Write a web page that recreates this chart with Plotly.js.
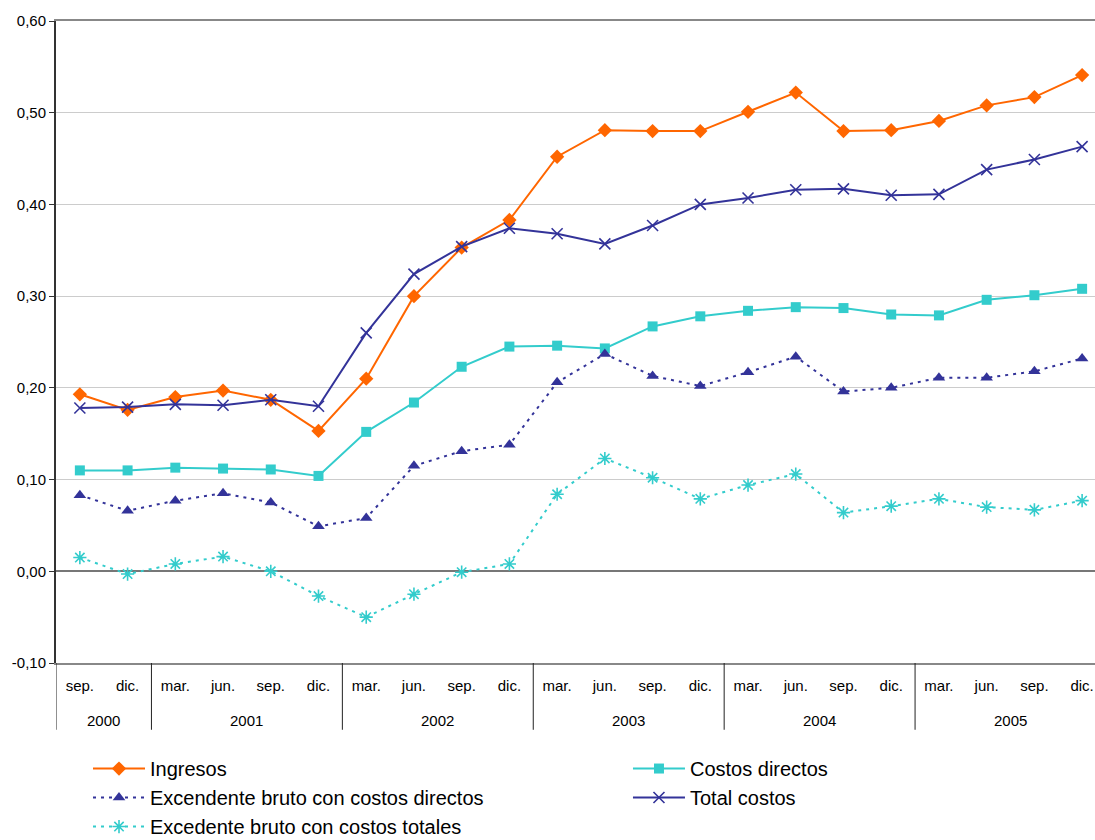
<!DOCTYPE html>
<html>
<head>
<meta charset="utf-8">
<script src="https://cdn.plot.ly/plotly-3.0.1.min.js"></script>
<style>
html,body{margin:0;padding:0;background:#fff;overflow:hidden;}
#chart{width:1095px;height:840px;}
</style>
</head>
<body>
<div id="chart"></div>
<script>
var years = ['2000','2000','2001','2001','2001','2001','2002','2002','2002','2002','2003','2003','2003','2003','2004','2004','2004','2004','2005','2005','2005','2005'];
var months = ['sep.','dic.','mar.','jun.','sep.','dic.','mar.','jun.','sep.','dic.','mar.','jun.','sep.','dic.','mar.','jun.','sep.','dic.','mar.','jun.','sep.','dic.'];

var ingresos = [0.193,0.176,0.190,0.197,0.187,0.153,0.210,0.300,0.353,0.383,0.452,0.481,0.480,0.480,0.501,0.522,0.480,0.481,0.491,0.508,0.517,0.541];
var costosDirectos = [0.110,0.110,0.113,0.112,0.111,0.104,0.152,0.184,0.223,0.245,0.246,0.243,0.267,0.278,0.284,0.288,0.287,0.280,0.279,0.296,0.301,0.308];
var excDirectos = [0.083,0.066,0.077,0.085,0.075,0.049,0.058,0.115,0.131,0.138,0.206,0.237,0.213,0.202,0.217,0.234,0.196,0.200,0.211,0.211,0.218,0.232];
var totalCostos = [0.178,0.179,0.182,0.181,0.187,0.180,0.260,0.324,0.354,0.374,0.368,0.357,0.377,0.400,0.407,0.416,0.417,0.410,0.411,0.438,0.449,0.463];
var excTotales = [0.015,-0.003,0.008,0.016,0.000,-0.027,-0.050,-0.025,-0.001,0.008,0.084,0.123,0.102,0.079,0.094,0.106,0.064,0.071,0.079,0.070,0.067,0.077];

var yTicks = [-0.1,0,0.1,0.2,0.3,0.4,0.5,0.6];

var seriesNames = ['Ingresos','Costos directos','Excendente bruto con costos directos','Total costos','Excedente bruto con costos totales'];

// unique category keys; month shown as tick text
var cats = years.map(function(y, i){ return y + ' ' + months[i]; });
var yTickText = yTicks.map(function(v){ return v.toFixed(2).replace('.', ','); });

var navy = '#333399', teal = '#33CCCC', orange = '#FF6600';

var traces = [
  {x:cats, y:ingresos, name:seriesNames[0], legend:'legend', type:'scatter', mode:'lines+markers',
   line:{color:orange, width:2}, marker:{symbol:'diamond', size:11, color:orange}},
  {x:cats, y:costosDirectos, name:seriesNames[1], legend:'legend2', type:'scatter', mode:'lines+markers',
   line:{color:teal, width:2}, marker:{symbol:'square', size:10, color:teal}},
  {x:cats, y:excDirectos, name:seriesNames[2], legend:'legend', type:'scatter', mode:'lines+markers',
   line:{color:navy, width:2, dash:'3px,5px'}, marker:{symbol:'triangle-up', size:11, color:navy}},
  {x:cats, y:totalCostos, name:seriesNames[3], legend:'legend2', type:'scatter', mode:'lines+markers',
   line:{color:navy, width:2}, marker:{symbol:'x-thin-open', size:11, color:navy, line:{color:navy, width:1.6}}},
  {x:cats, y:excTotales, name:seriesNames[4], legend:'legend', type:'scatter', mode:'lines+markers',
   line:{color:teal, width:2, dash:'3px,5px'}, marker:{symbol:'asterisk-open', size:11, color:teal, line:{color:teal, width:1.6}}}
];

// year groups -> labels and dividers
var groups = [];
years.forEach(function(y, i){
  if (!groups.length || groups[groups.length-1].year !== y) groups.push({year:y, first:i, last:i});
  else groups[groups.length-1].last = i;
});
var divBottom = -0.104, yearY = -0.0888;
var shapes = [], annotations = [];
groups.forEach(function(g){
  shapes.push({type:'line', xref:'x', yref:'paper', x0:g.first-0.5, x1:g.first-0.5, y0:0, y1:divBottom,
               line:{color:'#222', width:1}});
  annotations.push({xref:'x', yref:'paper', x:(g.first+g.last)/2, y:yearY, text:g.year, showarrow:false,
                    xanchor:'center', yanchor:'middle', font:{size:15, color:'#000'}});
});
var lastG = groups[groups.length-1];
shapes.push({type:'line', xref:'x', yref:'paper', x0:lastG.last+0.5, x1:lastG.last+0.5, y0:0, y1:divBottom,
             line:{color:'#222', width:1}});

var legendCommon = {
  orientation:'v', xanchor:'left', y:-0.134, yanchor:'top',
  font:{size:20, color:'#000'}, itemwidth:52,
  traceorder:'normal', bgcolor:'rgba(0,0,0,0)', borderwidth:0, tracegroupgap:0
};

var layout = {
  width:1095, height:840,
  margin:{l:56, r:0, t:21, b:177, autoexpand:false},
  paper_bgcolor:'#fff', plot_bgcolor:'#fff',
  font:{family:'"Liberation Sans", Arial, sans-serif', size:15, color:'#000'},
  showlegend:true,
  xaxis:{
    type:'category',
    range:[-0.5, 21.27],
    tickvals:cats, ticktext:months,
    showgrid:false, zeroline:false,
    showline:true, linecolor:'#888', linewidth:2, mirror:true,
    ticks:'', ticklabelstandoff:8,
    tickfont:{size:15, color:'#000'}
  },
  yaxis:{
    range:[-0.1, 0.6],
    tickvals:yTicks, ticktext:yTickText,
    showgrid:true, gridcolor:'#cccccc', gridwidth:1,
    zeroline:true, zerolinecolor:'#777', zerolinewidth:2,
    showline:true, linecolor:'#333', linewidth:2,
    ticks:'outside', ticklen:5, tickcolor:'#333', tickwidth:1,
    tickfont:{size:15, color:'#000'}
  },
  legend:Object.assign({}, legendCommon, {x:0.0308}),
  legend2:Object.assign({}, legendCommon, {x:0.5505}),
  shapes:shapes,
  annotations:annotations
};

Plotly.newPlot('chart', traces, layout, {displayModeBar:false, staticPlot:true});
</script>
</body>
</html>
